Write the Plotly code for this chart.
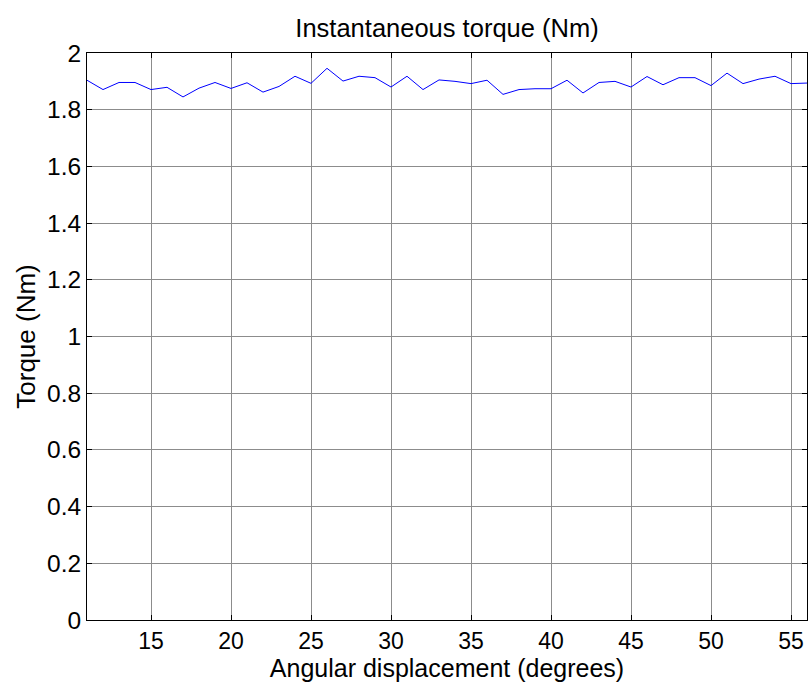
import plotly.graph_objects as go

angle_deg = list(range(11, 57))
torque_nm = [1.904, 1.871, 1.896, 1.896, 1.871, 1.879, 1.845, 1.876, 1.896, 1.875,
             1.895, 1.862, 1.882, 1.918, 1.893, 1.946, 1.901, 1.918, 1.913, 1.880,
             1.918, 1.871, 1.905, 1.900, 1.892, 1.904, 1.854, 1.871, 1.874, 1.874,
             1.904, 1.859, 1.896, 1.900, 1.880, 1.917, 1.888, 1.913, 1.913, 1.885,
             1.929, 1.892, 1.908, 1.918, 1.892, 1.894]

x_ticks = [15, 20, 25, 30, 35, 40, 45, 50, 55]
y_ticks = [0, 0.2, 0.4, 0.6, 0.8, 1, 1.2, 1.4, 1.6, 1.8, 2]
y_tick_labels = ["0", "0.2", "0.4", "0.6", "0.8", "1", "1.2", "1.4", "1.6", "1.8", "2"]

font_family = "Liberation Sans, Arial, sans-serif"

fig = go.Figure()
fig.add_trace(go.Scatter(x=angle_deg, y=torque_nm, mode="lines",
                         line=dict(color="#0000ff", width=1), showlegend=False))

axis_common = dict(showline=True, linecolor="black", linewidth=1, mirror="ticks",
                   ticks="inside", ticklen=5, tickcolor="black", tickwidth=1,
                   showgrid=True, gridcolor="#8c8c8c", gridwidth=1, zeroline=False)

fig.update_layout(
    width=809, height=682,
    margin=dict(l=87, r=2, t=53, b=62),
    paper_bgcolor="white", plot_bgcolor="white",
    font=dict(family=font_family, color="black"),
    title=dict(text="Instantaneous torque (Nm)", x=0.5, xanchor="center", xref="paper",
               y=1 - 28 / 682, yref="container", yanchor="middle",
               font=dict(family=font_family, size=25.5, color="black")),
    xaxis=dict(range=[11, 56], tickvals=x_ticks,
               tickfont=dict(family=font_family, size=23, color="black"),
               title=dict(text="Angular displacement (degrees)", standoff=3,
                          font=dict(family=font_family, size=25, color="black")),
               **axis_common),
    yaxis=dict(range=[0, 2], tickvals=y_ticks, ticktext=y_tick_labels,
               tickfont=dict(family=font_family, size=24.5, color="black"),
               title=dict(text="Torque (Nm)", standoff=3,
                          font=dict(family=font_family, size=26, color="black")),
               **axis_common),
)

fig.write_html("out.html")
